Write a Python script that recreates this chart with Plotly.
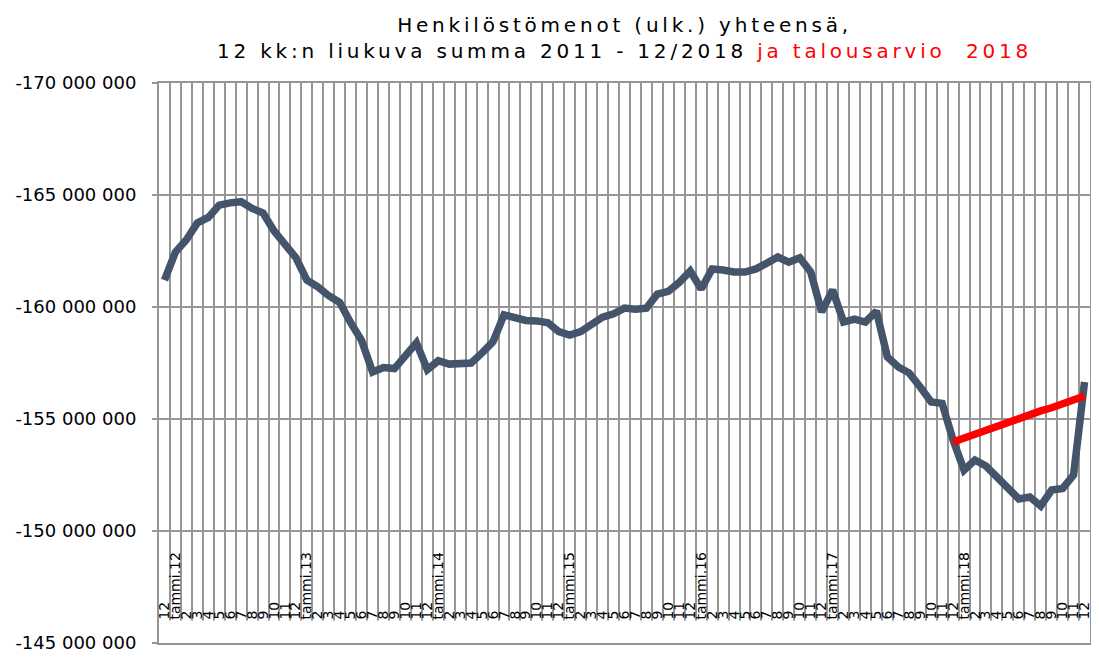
import plotly.graph_objects as go

# Category labels (12/2011 ... 12/2018)
tick_labels = ["12"] + sum(
    [[f"tammi.{y}"] + [str(m) for m in range(2, 13)] for y in range(12, 19)], []
)
periods = ["2011-12"] + [f"{y}-{m:02d}" for y in range(2012, 2019) for m in range(1, 13)]

# 12-month rolling sum of personnel expenses (EUR)
actual = [
    -161.2e6, -162.45e6, -163.0e6, -163.75e6, -164.0e6, -164.55e6, -164.65e6, -164.7e6,
    -164.4e6, -164.2e6, -163.4e6, -162.85e6, -162.2e6, -161.2e6, -160.9e6, -160.5e6,
    -160.2e6, -159.3e6, -158.5e6, -157.1e6, -157.3e6, -157.25e6, -157.85e6, -158.4e6,
    -157.2e6, -157.6e6, -157.45e6, -157.5e6, -157.5e6, -157.95e6, -158.45e6, -159.65e6,
    -159.5e6, -159.4e6, -159.38e6, -159.3e6, -158.9e6, -158.75e6, -158.9e6, -159.2e6,
    -159.55e6, -159.7e6, -159.95e6, -159.9e6, -159.95e6, -160.58e6, -160.7e6, -161.1e6,
    -161.6e6, -160.8e6, -161.7e6, -161.65e6, -161.56e6, -161.56e6, -161.7e6, -161.96e6,
    -162.23e6, -162.0e6, -162.2e6, -161.56e6, -159.78e6, -160.76e6, -159.33e6, -159.46e6,
    -159.33e6, -159.82e6, -157.77e6, -157.32e6, -157.05e6, -156.43e6, -155.76e6, -155.7e6,
    -154.06e6, -152.72e6, -153.17e6, -152.9e6, -152.4e6, -151.83e6, -151.43e6, -151.52e6,
    -151.12e6, -151.83e6, -151.9e6, -152.5e6, -156.65e6,
]

# Budget 2018 (from 12/2017 to 12/2018)
budget_periods = periods[-13:]
budget = [
    -153.97e6, -154.15e6, -154.3e6, -154.46e6, -154.64e6, -154.8e6, -155.04e6,
    -155.2e6, -155.36e6, -155.5e6, -155.7e6, -155.85e6, -156.03e6,
]

y_ticks = [-170e6, -165e6, -160e6, -155e6, -150e6, -145e6]
y_tick_text = ["-170 000 000", "-165 000 000", "-160 000 000", "-155 000 000",
               "-150 000 000", "-145 000 000"]

GRID = "#969696"
FONT = "DejaVu Sans"

fig = go.Figure()
fig.add_trace(go.Scatter(
    x=periods, y=actual, mode="lines",
    line=dict(color="#44546A", width=7.5), showlegend=False, hoverinfo="skip",
))
fig.add_trace(go.Scatter(
    x=budget_periods, y=budget, mode="lines",
    line=dict(color="#FF0000", width=7.5), showlegend=False, hoverinfo="skip",
))
# invisible helper on the label axis
fig.add_trace(go.Scatter(
    x=periods, y=actual, xaxis="x2", yaxis="y2", mode="lines",
    line=dict(color="rgba(0,0,0,0)", width=0), showlegend=False, hoverinfo="skip",
))

title_html = (
    "<span style='letter-spacing:3.8px'>Henkilöstömenot (ulk.) yhteensä,</span><br>"
    "<span style='letter-spacing:3.8px'>12 kk:n liukuva summa 2011 - 12/2018 </span>"
    "<span style='letter-spacing:3.8px;fill:#FF0000'>ja talousarvio\u00a0 2018</span>"
)

fig.update_layout(
    width=1091, height=653,
    margin=dict(l=149, r=7, t=75, b=18),
    paper_bgcolor="white", plot_bgcolor="white",
    font=dict(family=FONT, color="black"),
    xaxis=dict(
        type="category", range=[-0.5, 84.5], categoryarray=periods,
        tickmode="array", tickvals=periods, ticktext=[""] * len(periods),
        tickson="boundaries", ticks="",
        showgrid=True, gridcolor=GRID, gridwidth=2,
        showline=True, linecolor=GRID, linewidth=2, mirror=True,
        zeroline=False,
    ),
    # label axis: a thin subplot strip whose top edge is where labels start
    xaxis2=dict(
        type="category", range=[-0.5, 84.5], categoryarray=periods,
        anchor="y2", side="top", domain=[0, 1],
        tickmode="array", tickvals=periods, ticktext=tick_labels,
        tickangle=-90, ticks="", showgrid=False, showline=False, zeroline=False,
        tickfont=dict(size=14, family=FONT, color="black"),
        ticklabelstandoff=0,
    ),
    yaxis2=dict(domain=[0, 0.04], visible=False, showgrid=False,
                anchor="x2"),
    yaxis=dict(
        range=[-145e6, -170e6], domain=[0, 1],
        tickmode="array", tickvals=y_ticks, ticktext=y_tick_text,
        ticks="outside", ticklen=5, tickcolor=GRID, tickwidth=2,
        showgrid=True, gridcolor=GRID, gridwidth=2,
        showline=True, linecolor=GRID, linewidth=2, mirror=True,
        tickfont=dict(size=18, family=FONT, color="black"),
        ticklabelstandoff=12, zeroline=False,
    ),
    annotations=[dict(
        text=title_html, x=0.5, xref="paper", xanchor="center",
        y=1 + (75 - 3) / 560, yref="paper", yanchor="top",
        showarrow=False, font=dict(size=20, family=FONT, color="black"),
    )],
)

fig.write_html("out.html")
